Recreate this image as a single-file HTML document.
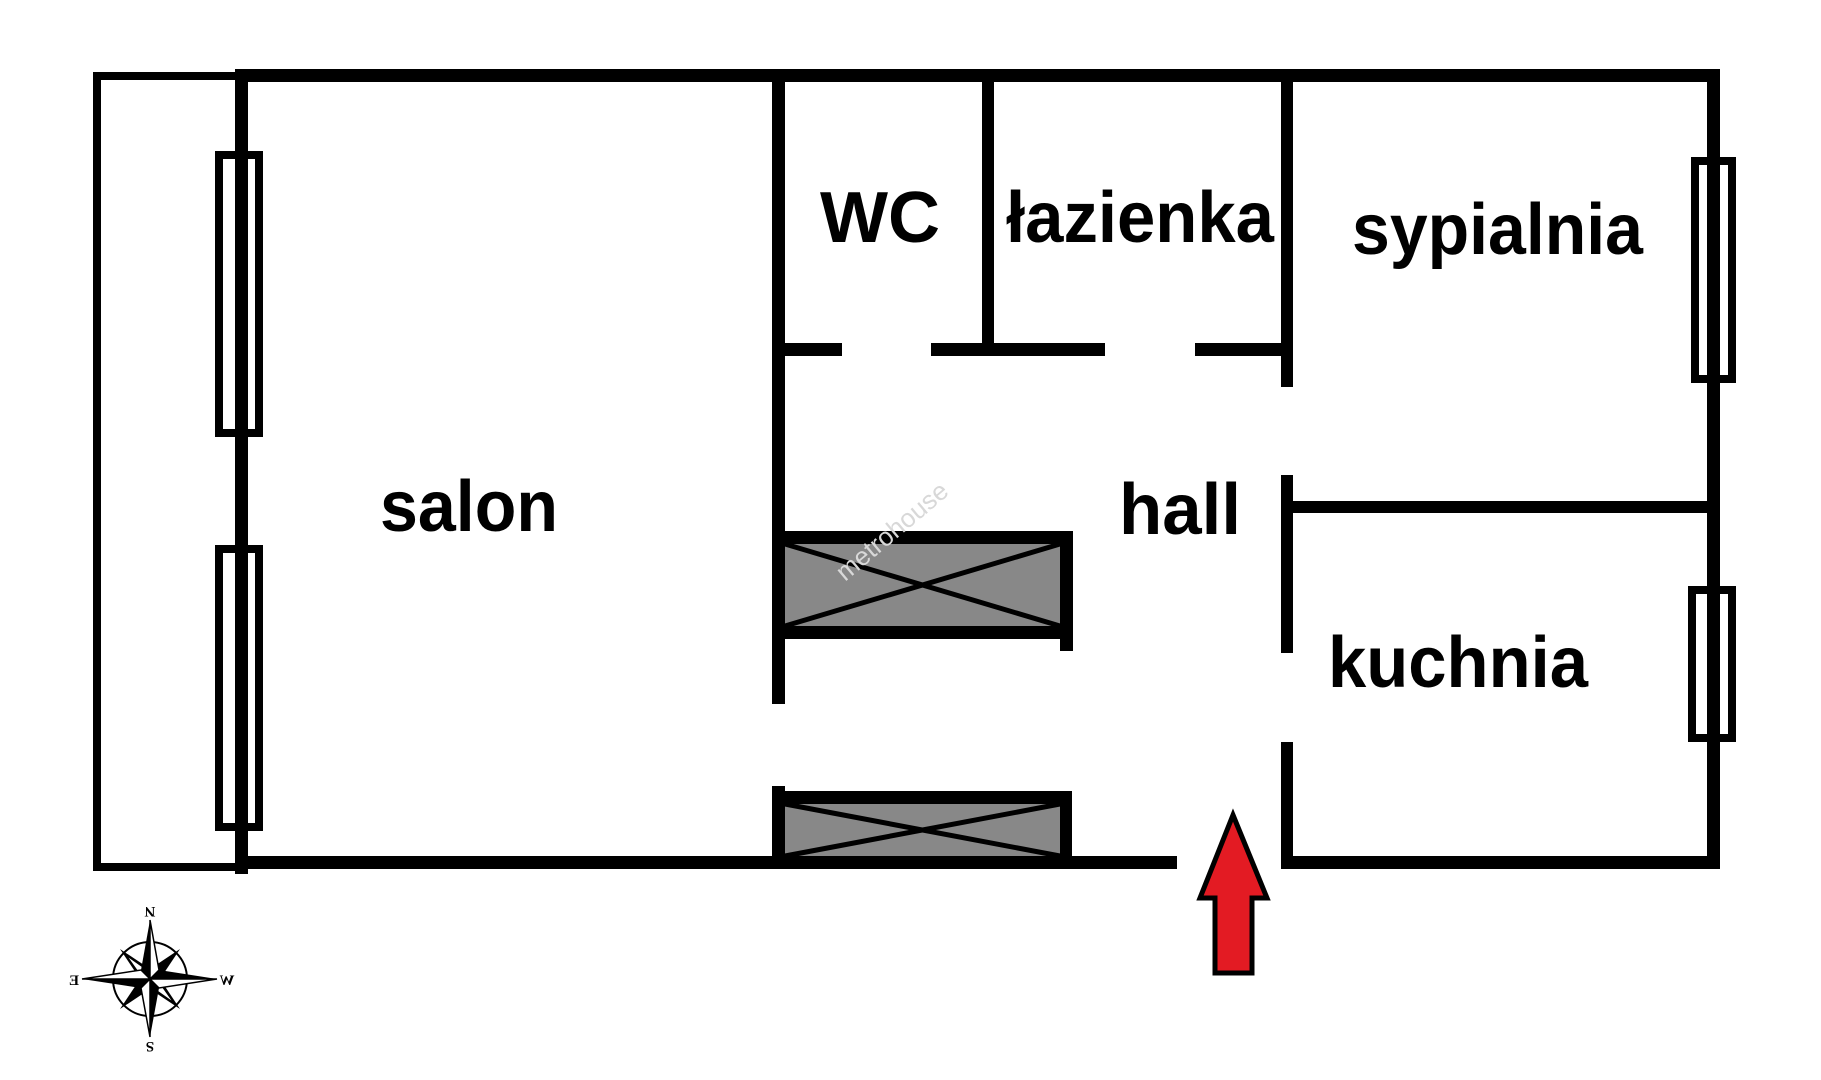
<!DOCTYPE html>
<html><head><meta charset="utf-8"><style>
html,body{margin:0;padding:0;background:#fff;}
svg{display:block}
text{font-family:"Liberation Sans",sans-serif;font-weight:bold;fill:#000}
</style></head><body>
<svg width="1821" height="1080" viewBox="0 0 1821 1080" xmlns="http://www.w3.org/2000/svg">
<rect width="1821" height="1080" fill="#fff"/>
<rect x="97" y="76" width="142" height="791" fill="none" stroke="#000" stroke-width="8"/>
<rect x="235" y="69" width="1485" height="13" fill="#000"/>
<rect x="235" y="69" width="13" height="805" fill="#000"/>
<rect x="235" y="856" width="942" height="13" fill="#000"/>
<rect x="1281" y="856" width="439" height="13" fill="#000"/>
<rect x="1707" y="69" width="13" height="800" fill="#000"/>
<rect x="219" y="155" width="40" height="278" fill="none" stroke="#000" stroke-width="8"/>
<rect x="219" y="549" width="40" height="278" fill="none" stroke="#000" stroke-width="8"/>
<rect x="1695" y="161" width="37" height="218" fill="none" stroke="#000" stroke-width="8"/>
<rect x="1692" y="590" width="40" height="148" fill="none" stroke="#000" stroke-width="8"/>
<rect x="772" y="69" width="13" height="635" fill="#000"/>
<rect x="772" y="786" width="13" height="83" fill="#000"/>
<rect x="772" y="343" width="70" height="13" fill="#000"/>
<rect x="931" y="343" width="174" height="13" fill="#000"/>
<rect x="1195" y="343" width="98" height="13" fill="#000"/>
<rect x="982" y="69" width="12" height="287" fill="#000"/>
<rect x="1281" y="69" width="12" height="318" fill="#000"/>
<rect x="1281" y="475" width="12" height="178" fill="#000"/>
<rect x="1281" y="742" width="12" height="127" fill="#000"/>
<rect x="1281" y="501" width="439" height="12" fill="#000"/>
<rect x="785" y="544" width="275" height="82" fill="#888"/>
<line x1="785" y1="544" x2="1060" y2="626" stroke="#000" stroke-width="5"/>
<line x1="785" y1="626" x2="1060" y2="544" stroke="#000" stroke-width="5"/>
<rect x="772" y="531" width="301" height="13" fill="#000"/>
<rect x="772" y="626" width="301" height="13" fill="#000"/>
<rect x="1060" y="531" width="13" height="120" fill="#000"/>
<rect x="785" y="804" width="275" height="52" fill="#888"/>
<line x1="785" y1="804" x2="1060" y2="856" stroke="#000" stroke-width="5"/>
<line x1="785" y1="856" x2="1060" y2="804" stroke="#000" stroke-width="5"/>
<rect x="772" y="791" width="300" height="13" fill="#000"/>
<rect x="1060" y="791" width="12" height="70" fill="#000"/>
<text x="845" y="582" transform="rotate(-40 845 582)" style="font-weight:normal;fill:#d8d8d8;font-size:26px">metrohouse</text>
<text x="820" y="242" font-size="72" textLength="120" lengthAdjust="spacingAndGlyphs">WC</text>
<text x="1006" y="242" font-size="72" textLength="268" lengthAdjust="spacingAndGlyphs">łazienka</text>
<text x="1352" y="254" font-size="72" textLength="291" lengthAdjust="spacingAndGlyphs">sypialnia</text>
<text x="380" y="531" font-size="72" textLength="178" lengthAdjust="spacingAndGlyphs">salon</text>
<text x="1119" y="534" font-size="72" textLength="122" lengthAdjust="spacingAndGlyphs">hall</text>
<text x="1328" y="687" font-size="72" textLength="260" lengthAdjust="spacingAndGlyphs">kuchnia</text>
<polygon points="1233,815 1267,898 1252,898 1252,973 1215,973 1215,898 1200,898" fill="#e31b23" stroke="#000" stroke-width="5" stroke-linejoin="miter"/>
<g transform="translate(150,979)">
<circle r="37" fill="none" stroke="#000" stroke-width="2"/>
<g fill="#000">
<polygon points="0,-10 -30,-30 -10,0"/>
<polygon points="0,-10 30,-30 10,0"/>
<polygon points="0,10 -30,30 -10,0"/>
<polygon points="0,10 30,30 10,0"/>
</g>
<g fill="#fff" stroke="#000" stroke-width="1.2">
<polygon points="0,-7 -24,-24 -7,0"/>
<polygon points="0,7 24,24 7,0"/>
</g>
<polygon points="0,-59 -9,-9 0,0" fill="#000"/>
<polygon points="0,-59 9,-9 0,0" fill="#fff" stroke="#000" stroke-width="1.5"/>
<polygon points="0,58 9,9 0,0" fill="#000"/>
<polygon points="0,58 -9,9 0,0" fill="#fff" stroke="#000" stroke-width="1.5"/>
<polygon points="67,0 9,-9 0,0" fill="#000"/>
<polygon points="67,0 9,9 0,0" fill="#fff" stroke="#000" stroke-width="1.5"/>
<polygon points="-68,0 -9,9 0,0" fill="#000"/>
<polygon points="-68,0 -9,-9 0,0" fill="#fff" stroke="#000" stroke-width="1.5"/>
</g>
<text x="150" y="919" font-size="15" text-anchor="middle" transform="rotate(180 150 913)" style="font-family:'Liberation Serif',serif">N</text>
<text x="150" y="1054" font-size="15" text-anchor="middle" transform="rotate(180 150 1048)" style="font-family:'Liberation Serif',serif">S</text>
<text x="74" y="985" font-size="15" text-anchor="middle" transform="scale(-1,1) translate(-148,0)" style="font-family:'Liberation Serif',serif">E</text>
<text x="227" y="985" font-size="15" text-anchor="middle" transform="scale(-1,1) translate(-454,0)" style="font-family:'Liberation Serif',serif">W</text>
</svg>
</body></html>
